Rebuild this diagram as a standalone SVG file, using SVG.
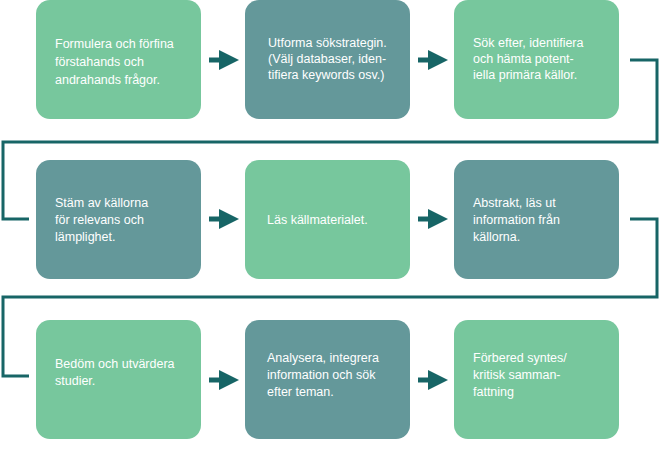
<svg xmlns="http://www.w3.org/2000/svg" width="659" height="451" viewBox="0 0 659 451">
<style>
.g{fill:#77c79d}.t{fill:#64989a}
text{font-family:"Liberation Sans",Arial,sans-serif;font-size:12.5px;fill:#fff}
.c{fill:none;stroke:#176566;stroke-width:3}
</style>
<defs><marker id="a" markerWidth="4" markerHeight="4" refX="2" refY="2" orient="auto"><path d="M0,0L4,2L0,4Z" fill="#176566"/></marker></defs>
<g id="n1"><rect class="g" x="36" y="0" width="165" height="119" rx="14"/><text x="55"><tspan x="55" y="48">Formulera och förfina</tspan><tspan x="55" y="66">förstahands och</tspan><tspan x="55" y="84">andrahands frågor.</tspan></text></g>
<g id="n2"><rect class="t" x="245" y="0" width="165" height="119" rx="14"/><text><tspan x="268" y="47">Utforma sökstrategin.</tspan><tspan x="268" y="63">(Välj databaser, iden-</tspan><tspan x="268" y="79">tifiera keywords osv.)</tspan></text></g>
<g id="n3"><rect class="g" x="454" y="0" width="165" height="119" rx="14"/><text><tspan x="473" y="47">Sök efter, identifiera</tspan><tspan x="473" y="63">och hämta potent-</tspan><tspan x="473" y="79">iella primära källor.</tspan></text></g>
<g id="n4"><rect class="t" x="36" y="160" width="165" height="119" rx="14"/><text><tspan x="55" y="207">Stäm av källorna</tspan><tspan x="55" y="224">för relevans och</tspan><tspan x="55" y="241">lämplighet.</tspan></text></g>
<g id="n5"><rect class="g" x="245" y="160" width="165" height="119" rx="14"/><text x="267" y="224">Läs källmaterialet.</text></g>
<g id="n6"><rect class="t" x="454" y="160" width="165" height="119" rx="14"/><text><tspan x="473" y="207">Abstrakt, läs ut</tspan><tspan x="473" y="224">information från</tspan><tspan x="473" y="241">källorna.</tspan></text></g>
<g id="n7"><rect class="g" x="36" y="320" width="165" height="119" rx="14"/><text><tspan x="55" y="368">Bedöm och utvärdera</tspan><tspan x="55" y="385">studier.</tspan></text></g>
<g id="n8"><rect class="t" x="245" y="320" width="165" height="119" rx="14"/><text><tspan x="267" y="362">Analysera, integrera</tspan><tspan x="267" y="379">information och sök</tspan><tspan x="267" y="396">efter teman.</tspan></text></g>
<g id="n9"><rect class="g" x="454" y="320" width="165" height="119" rx="14"/><text><tspan x="473" y="362">Förbered syntes/</tspan><tspan x="473" y="379">kritisk samman-</tspan><tspan x="473" y="396">fattning</tspan></text></g>
<g id="connectors" class="c">
<path d="M209,60H229" stroke-width="5" marker-end="url(#a)"/>
<path d="M418,60H438" stroke-width="5" marker-end="url(#a)"/>
<path d="M209,219H229" stroke-width="5" marker-end="url(#a)"/>
<path d="M418,219H438" stroke-width="5" marker-end="url(#a)"/>
<path d="M209,380H229" stroke-width="5" marker-end="url(#a)"/>
<path d="M418,380H438" stroke-width="5" marker-end="url(#a)"/>
<path d="M630,60H657V142H3V219H29"/>
<path d="M630,219H657V297H3V376H29"/>
</g>
</svg>
